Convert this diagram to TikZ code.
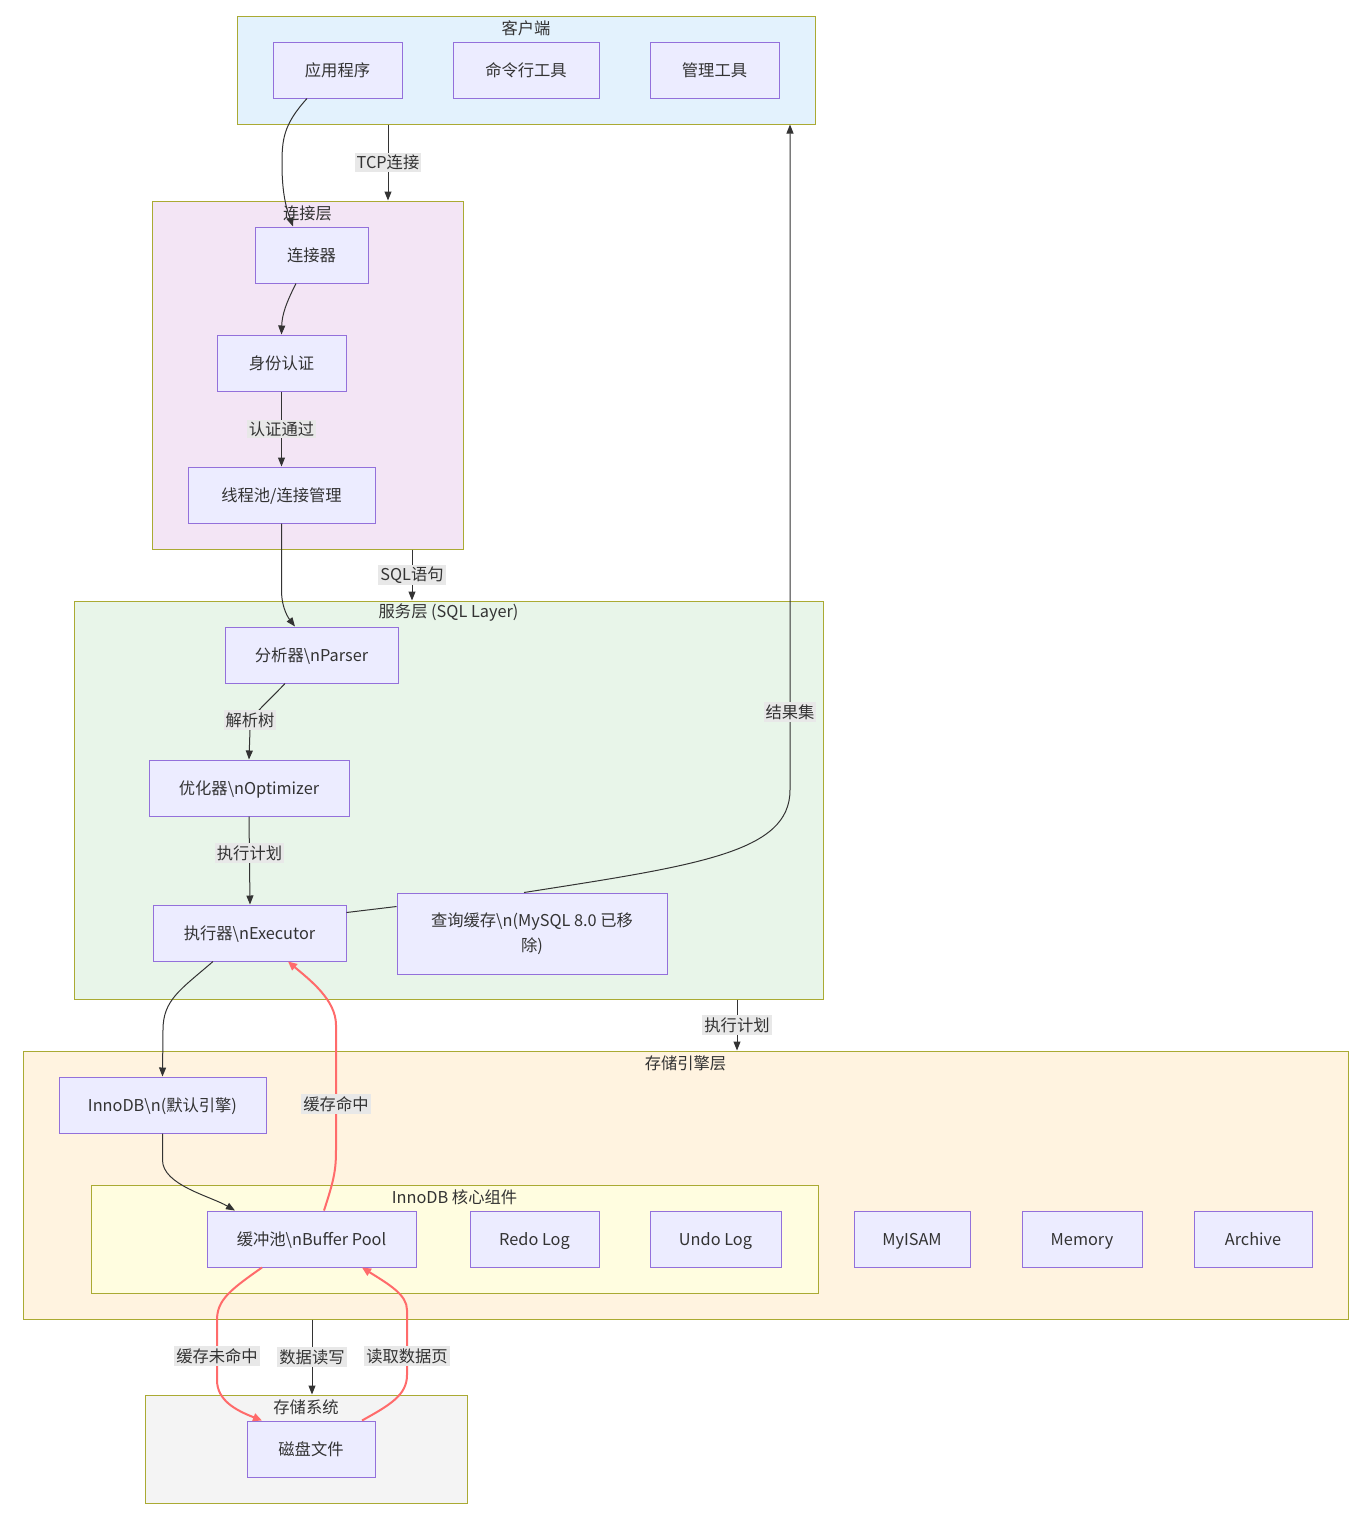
\documentclass[tikz,border=0pt]{standalone}
\usepackage{fontspec}
\setmainfont{Noto Sans CJK SC}
\usetikzlibrary{arrows.meta,calc}
\definecolor{nodefill}{HTML}{ECECFF}
\definecolor{nodedraw}{HTML}{9370DB}
\definecolor{clusterdraw}{HTML}{AAAA33}
\definecolor{txt}{HTML}{333333}
\definecolor{lblbg}{HTML}{E8E8E8}
\definecolor{redline}{HTML}{FF6B6B}
\definecolor{cClient}{HTML}{E3F2FD}
\definecolor{cConn}{HTML}{F3E5F5}
\definecolor{cServ}{HTML}{E8F5E9}
\definecolor{cEngine}{HTML}{FFF3E0}
\definecolor{cCore}{HTML}{FFFDE0}
\definecolor{cStore}{HTML}{F4F4F4}
\tikzset{
  box/.style={draw=nodedraw, fill=nodefill, line width=1pt, minimum height=56pt, inner sep=0pt, text=txt, font=\fontsize{16.3}{25}\selectfont, align=center, text height=14pt, text depth=2pt},
  cluster/.style={draw=clusterdraw, line width=1pt, inner sep=0pt},
  ctitle/.style={text=txt, font=\fontsize{16.3}{20}\selectfont, inner sep=0pt},
  arr/.style={draw=txt, line width=1pt, -{Triangle[length=9pt,width=7pt]}},
  redarr/.style={draw=redline, line width=2pt, -{Triangle[length=9pt,width=8pt]}},
  elabel/.style={fill=lblbg, text=txt, font=\fontsize{16.3}{20}\selectfont, inner sep=2pt}
}
\begin{document}
\begin{tikzpicture}[x=1pt,y=-1pt]
\useasboundingbox (0,0) rectangle (1365,1519);
% clusters
\node[cluster, fill=cClient, minimum width=578pt, minimum height=108pt] (client) at (526,70) {};
\node[ctitle] (clientT) at (526,28) {客户端};
\node[cluster, fill=cConn, minimum width=311pt, minimum height=348pt] (connL) at (307.5,375) {};
\node[ctitle] (connLT) at (307.5,213) {连接层};
\node[cluster, fill=cServ, minimum width=749pt, minimum height=398pt] (serv) at (448.5,800) {};
\node[ctitle] (servT) at (448.5,613) {服务层 (SQL Layer)};
\node[cluster, fill=cEngine, minimum width=1325pt, minimum height=268pt] (engine) at (685.5,1185) {};
\node[ctitle] (engineT) at (685.5,1063) {存储引擎层};
\node[cluster, fill=cCore, minimum width=727pt, minimum height=108pt] (core) at (454.5,1239) {};
\node[ctitle] (coreT) at (454.5,1197) {InnoDB 核心组件};
\node[cluster, fill=cStore, minimum width=322pt, minimum height=108pt] (store) at (306,1449) {};
\node[ctitle] (storeT) at (306,1407) {存储系统};
% nodes
\node[box, minimum width=129pt] (app) at (337.5,70) {应用程序};
\node[box, minimum width=146pt] (cmd) at (526,70) {命令行工具};
\node[box, minimum width=129pt] (mgmt) at (714.5,70) {管理工具};
\node[box, minimum width=113pt] (connector) at (311.5,255) {连接器};
\node[box, minimum width=129pt] (auth) at (281.5,363) {身份认证};
\node[box, minimum width=187pt] (thread) at (281.5,495) {线程池/连接管理};
\node[box, minimum width=173pt] (parser) at (311.5,655) {分析器\textbackslash nParser};
\node[box, minimum width=200pt] (optim) at (249,788) {优化器\textbackslash nOptimizer};
\node[box, minimum width=193pt] (exec) at (249.5,933) {执行器\textbackslash nExecutor};
\node[box, minimum width=270pt, minimum height=81pt, text height=, text depth=] (cache) at (532,933.5) {查询缓存\textbackslash n(MySQL 8.0 已移\\除)};
\node[box, minimum width=207pt] (innodb) at (162.5,1105) {InnoDB\textbackslash n(默认引擎)};
\node[box, minimum width=209pt] (bufpool) at (311.5,1239) {缓冲池\textbackslash nBuffer Pool};
\node[box, minimum width=129pt] (redo) at (534.5,1239) {Redo Log};
\node[box, minimum width=131pt] (undo) at (715.5,1239) {Undo Log};
\node[box, minimum width=116pt] (myisam) at (912,1239) {MyISAM};
\node[box, minimum width=120pt] (memory) at (1082,1239) {Memory};
\node[box, minimum width=118pt] (archive) at (1253,1239) {Archive};
\node[box, minimum width=128pt] (disk) at (311,1449) {磁盘文件};
% edges
\draw[arr] ([xshift=-30.5pt]app.south) .. controls (283,125) and (282,140) .. (282,165) .. controls (282,200) and (289,215) .. ([xshift=-18.5pt]connector.north);
\draw[arr] (client.south -| 388,0) -- node[elabel] {TCP连接} (connL.north -| 388,0);
\draw[arr] ([xshift=-15.5pt]connector.south) .. controls (286,303) and (282,315) .. (auth.north);
\draw[arr] (auth.south) -- node[elabel] {认证通过} (thread.north);
\draw[arr] (thread.south) -- (281.5,590) .. controls (281.5,610) and (290,620) .. ([xshift=-16.5pt]parser.north);
\draw[arr] (connL.south -| 412,0) -- node[elabel] {SQL语句} (serv.north -| 412,0);
\draw[arr] ([xshift=-26.5pt]parser.south) .. controls (262,708) and (250,715) .. (250,730) -- (optim.north);
\node[elabel] (parseL) at (250,720) {解析树};
\draw[arr] (optim.south) -- ([xshift=0.5pt]exec.north);
\node[elabel] (planL) at (249.5,853) {执行计划};
\draw[draw=txt, line width=1pt] ([yshift=-8pt]exec.north east) -- ([yshift=-14pt]cache.north west);
\draw[arr] ([xshift=-8pt]cache.north) .. controls (700,865) and (790,852) .. (790,790) -- (client.south -| 790,0);
\node[elabel] (resL) at (790,712) {结果集};
\draw[arr] (serv.south -| 737,0) -- node[elabel] {执行计划} (engine.north -| 737,0);
\draw[arr] ([xshift=-36.5pt]exec.south) .. controls (180,990) and (163,1000) .. (163,1030) -- (innodb.north);
\draw[arr] (innodb.south) -- (162.5,1160) .. controls (162.5,1185) and (210,1196) .. ([xshift=-76.5pt]bufpool.north);
\draw[redarr] ([xshift=12.5pt]bufpool.north) .. controls (334,1180) and (336,1170) .. (336,1150) -- (336,1025) .. controls (336,1000) and (310,980) .. ([xshift=38.5pt]exec.south);
\node[elabel] (hitL) at (336,1104) {缓存命中};
\draw[redarr] ([xshift=-49.5pt]bufpool.south) .. controls (230,1290) and (217,1300) .. (217,1320) -- (217,1380) .. controls (217,1400) and (235,1410) .. ([xshift=-49pt]disk.north);
\node[elabel] (missL) at (217,1356) {缓存未命中};
\draw[arr] (engine.south -| 312,0) -- node[elabel] {数据读写} (store.north -| 312,0);
\draw[redarr] ([xshift=51pt]disk.north) .. controls (390,1405) and (407,1395) .. (407,1375) -- (407,1310) .. controls (407,1295) and (390,1285) .. ([xshift=50.5pt]bufpool.south);
\node[elabel] (readL) at (407,1356) {读取数据页};
\end{tikzpicture}
\end{document}
